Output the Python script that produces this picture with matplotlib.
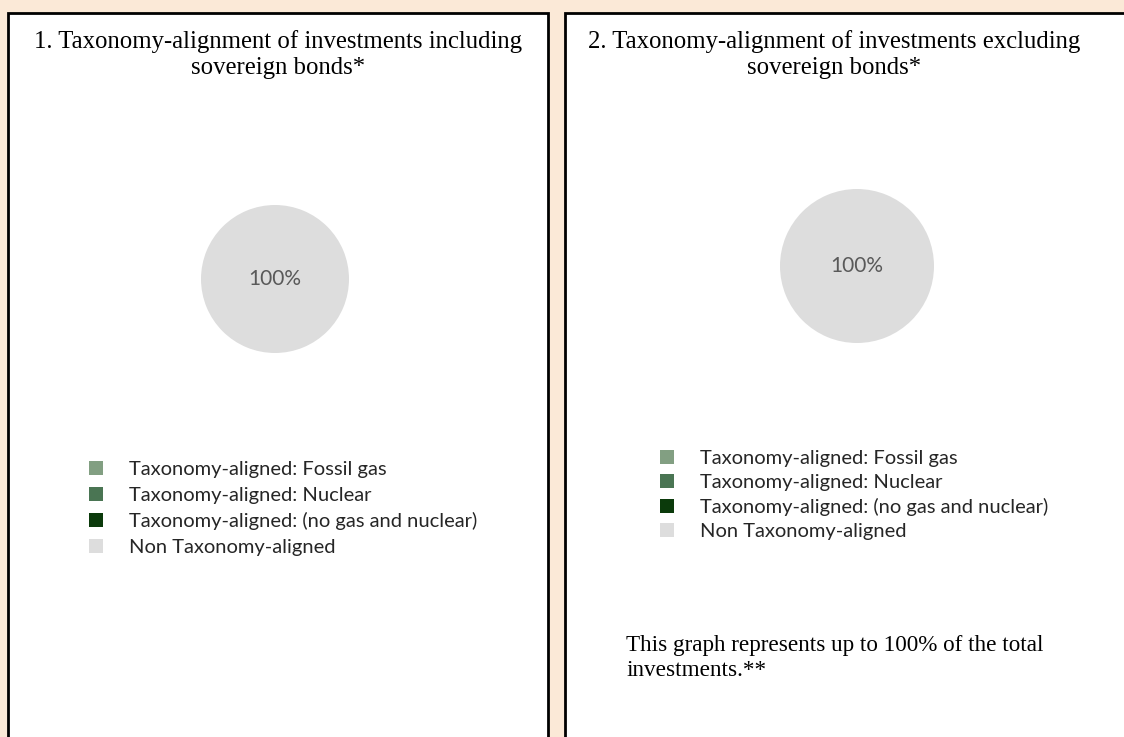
import matplotlib.pyplot as plt
from matplotlib.patches import Rectangle

categories = ["Taxonomy-aligned: Fossil gas",
              "Taxonomy-aligned: Nuclear",
              "Taxonomy-aligned: (no gas and nuclear)",
              "Non Taxonomy-aligned"]
incl_sov = [0, 0, 0, 100]
excl_sov = [0, 0, 0, 100]
colors = ["#829f82", "#4a7553", "#0b3a0b", "#dddddd"]

titles = [["1. Taxonomy-alignment of investments including", "sovereign bonds*"],
          ["2. Taxonomy-alignment of investments excluding", "sovereign bonds*"]]
note = ["This graph represents up to 100% of the total", "investments.**"]

W, H = 1124, 737
bg = "#fbe9d7"
fig = plt.figure(figsize=(W / 100, H / 100), dpi=100)
fig.patch.set_facecolor(bg)

def fx(x):
    return x / W

def fy(y):
    return 1 - y / H

# panel frames (bottom edge runs off the canvas)
for x0, x1 in [(8, 548), (565, 1140)]:
    fig.patches.append(Rectangle((fx(x0), fy(770)), fx(x1 - x0), (770 - 13) / H,
                                 transform=fig.transFigure, facecolor="white",
                                 edgecolor="black", lw=2, zorder=-5))

def pct(p):
    return "%d%%" % round(p) if p > 0 else ""

serif = "Liberation Serif"
sans = "Lato"

panels = [
    dict(vals=incl_sov, cx=275, cy=279, r=74, tx=278, leg=(89, 473), sp=0.42),
    dict(vals=excl_sov, cx=857, cy=266, r=77, tx=834, leg=(660, 462), sp=0.34),
]

for i, p in enumerate(panels):
    ax = fig.add_axes([fx(p["cx"] - p["r"]), fy(p["cy"] + p["r"]), fx(2 * p["r"]), 2 * p["r"] / H])
    wedges, texts, autotexts = ax.pie(p["vals"], colors=colors, autopct=pct, pctdistance=0.0,
                                      startangle=90, counterclock=False,
                                      textprops=dict(color="#595959", fontsize=15, family=sans))
    ax.set_xlim(-1, 1)
    ax.set_ylim(-1, 1)
    ax.set_aspect("equal")
    fig.text(fx(p["tx"]), fy(42), titles[i][0], ha="center", va="center", fontsize=17.8, family=serif)
    fig.text(fx(p["tx"]), fy(68), titles[i][1], ha="center", va="center", fontsize=17.8, family=serif)
    # legend: first row centred near leg y
    fig.legend(wedges, categories, loc="upper left",
               bbox_to_anchor=(fx(p["leg"][0]), fy(p["leg"][1] - 12)),
               frameon=False, prop=dict(family=sans, size=14.5),
               labelcolor="#262626",
               handlelength=0.7, handleheight=0.7, handletextpad=1.3,
               labelspacing=p["sp"], borderpad=0, borderaxespad=0)

fig.text(fx(626), fy(645), note[0], ha="left", va="center", fontsize=16.7, family=serif)
fig.text(fx(626), fy(671), note[1], ha="left", va="center", fontsize=16.7, family=serif)

fig.savefig("out.png", dpi=100, facecolor=fig.get_facecolor())
